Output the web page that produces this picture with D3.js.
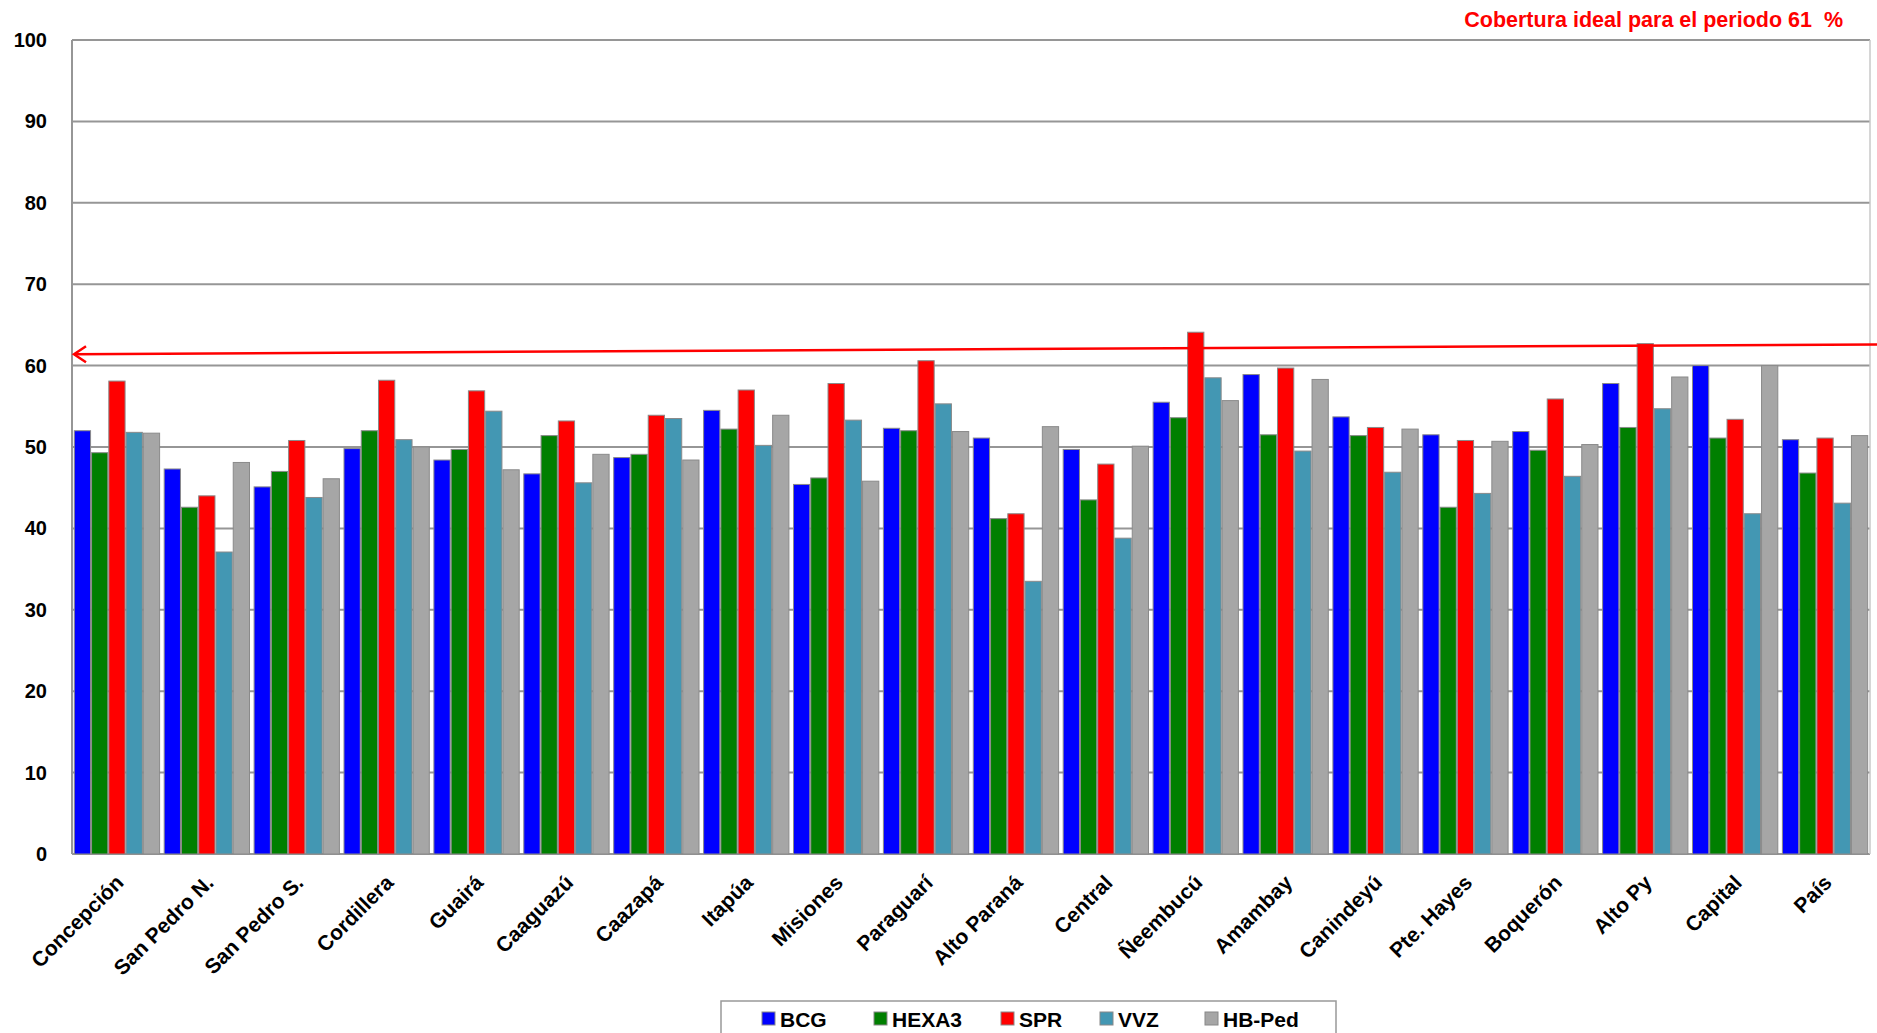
<!DOCTYPE html>
<html><head><meta charset="utf-8">
<script src="https://cdn.jsdelivr.net/npm/d3@7"></script>
<style>body{margin:0;background:#fff}svg{display:block}</style>
</head><body>
<svg id="c" width="1877" height="1033"></svg>
<script>
const categories=["Concepción","San Pedro N.","San Pedro S.","Cordillera","Guairá","Caaguazú","Caazapá","Itapúa","Misiones","Paraguarí","Alto Paraná","Central","Ñeembucú","Amambay","Canindeyú","Pte. Hayes","Boquerón","Alto Py","Capital","País"];
const seriesNames=["BCG","HEXA3","SPR","VVZ","HB-Ped"];
const colors=["#0000ff","#007f00","#ff0000","#4397b3","#a6a6a6"];
const BCG=[52,47.3,45.1,49.8,48.4,46.7,48.7,54.5,45.4,52.3,51.1,49.7,55.5,58.9,53.7,51.5,51.9,57.8,60,50.9];
const HEXA3=[49.3,42.6,47,52,49.7,51.4,49.1,52.2,46.2,52,41.2,43.5,53.6,51.5,51.4,42.6,49.6,52.4,51.1,46.8];
const SPR=[58.1,44,50.8,58.2,56.9,53.2,53.9,57,57.8,60.6,41.8,47.9,64.1,59.7,52.4,50.8,55.9,62.7,53.4,51.1];
const VVZ=[51.8,37.1,43.8,50.9,54.4,45.6,53.5,50.2,53.3,55.3,33.5,38.8,58.5,49.5,46.9,44.3,46.4,54.7,41.8,43.1];
const HBPed=[51.7,48.1,46.1,50,47.2,49.1,48.4,53.9,45.8,51.9,52.5,50.1,55.7,58.3,52.2,50.7,50.3,58.6,60,51.4];
const series=[BCG,HEXA3,SPR,VVZ,HBPed];
const yTicks=[0,10,20,30,40,50,60,70,80,90,100];
const idealLeft=61.4, idealRight=62.6;
const title="Cobertura ideal para el periodo 61  %";

const svg=d3.select("#c");
const L=72,R=1870,T=40,B=854;
const font="'Liberation Sans', Arial, sans-serif";
const x=d3.scaleBand().domain(categories).range([L,R]).paddingInner(0.04).paddingOuter(0.02);
const xs=d3.scaleBand().domain(seriesNames).range([0,x.bandwidth()]);
const y=d3.scaleLinear().domain([0,100]).range([B,T]);

svg.append("g").selectAll("line").data(yTicks).join("line")
 .attr("x1",L).attr("x2",R).attr("y1",d=>y(d)).attr("y2",d=>y(d))
 .attr("stroke","#969696").attr("stroke-width",2);
svg.append("line").attr("x1",L).attr("x2",L).attr("y1",T).attr("y2",B).attr("stroke","#969696").attr("stroke-width",2);
svg.append("line").attr("x1",R).attr("x2",R).attr("y1",T).attr("y2",B).attr("stroke","#c8c8c8").attr("stroke-width",1.5);

const g=svg.append("g").selectAll("g").data(categories).join("g")
 .attr("transform",d=>`translate(${x(d)},0)`);
g.selectAll("rect").data((d,i)=>series.map((s,j)=>({k:seriesNames[j],v:s[i],c:colors[j]}))).join("rect")
 .attr("x",d=>xs(d.k)+0.5).attr("width",xs.bandwidth()-1)
 .attr("y",d=>y(d.v)).attr("height",d=>B-y(d.v)).attr("fill",d=>d.c)
 .attr("stroke","#8a8a8a").attr("stroke-width",1);

svg.append("g").selectAll("text").data(yTicks).join("text")
 .attr("x",47).attr("y",d=>y(d)+7).attr("text-anchor","end")
 .attr("font-family",font).attr("font-weight","bold").attr("font-size",20).text(d=>d);

svg.append("g").selectAll("text").data(categories).join("text")
 .attr("transform",d=>`translate(${x(d)+x.bandwidth()/2+8},${B+30}) rotate(-45)`)
 .attr("text-anchor","end").attr("font-family",font).attr("font-weight","bold").attr("font-size",21).text(d=>d);

// ideal line
svg.append("line").attr("x1",L+2).attr("x2",R+8).attr("y1",y(idealLeft)).attr("y2",y(idealRight))
 .attr("stroke","#ff0000").attr("stroke-width",2.5);
svg.append("path").attr("d",`M${L+14},${y(idealLeft)-8} L${L+2},${y(idealLeft)} L${L+14},${y(idealLeft)+8}`)
 .attr("fill","none").attr("stroke","#ff0000").attr("stroke-width",2.5);
svg.append("text").attr("x",1843).attr("y",27).attr("text-anchor","end").attr("fill","#ff0000")
 .attr("font-family",font).attr("font-weight","bold").attr("font-size",21.5).attr("xml:space","preserve").text(title);

// legend
const lg=svg.append("g");
lg.append("rect").attr("x",721).attr("y",1001).attr("width",615).attr("height",40).attr("fill","#fff").attr("stroke","#999").attr("stroke-width",1.5);
const lx=[762,874,1001,1100,1205];
seriesNames.forEach((n,i)=>{
 lg.append("rect").attr("x",lx[i]).attr("y",1012).attr("width",13).attr("height",13).attr("fill",colors[i]).attr("stroke","#888");
 lg.append("text").attr("x",lx[i]+18).attr("y",1027).attr("font-family",font).attr("font-weight","bold").attr("font-size",21).text(n);
});
</script></body></html>
